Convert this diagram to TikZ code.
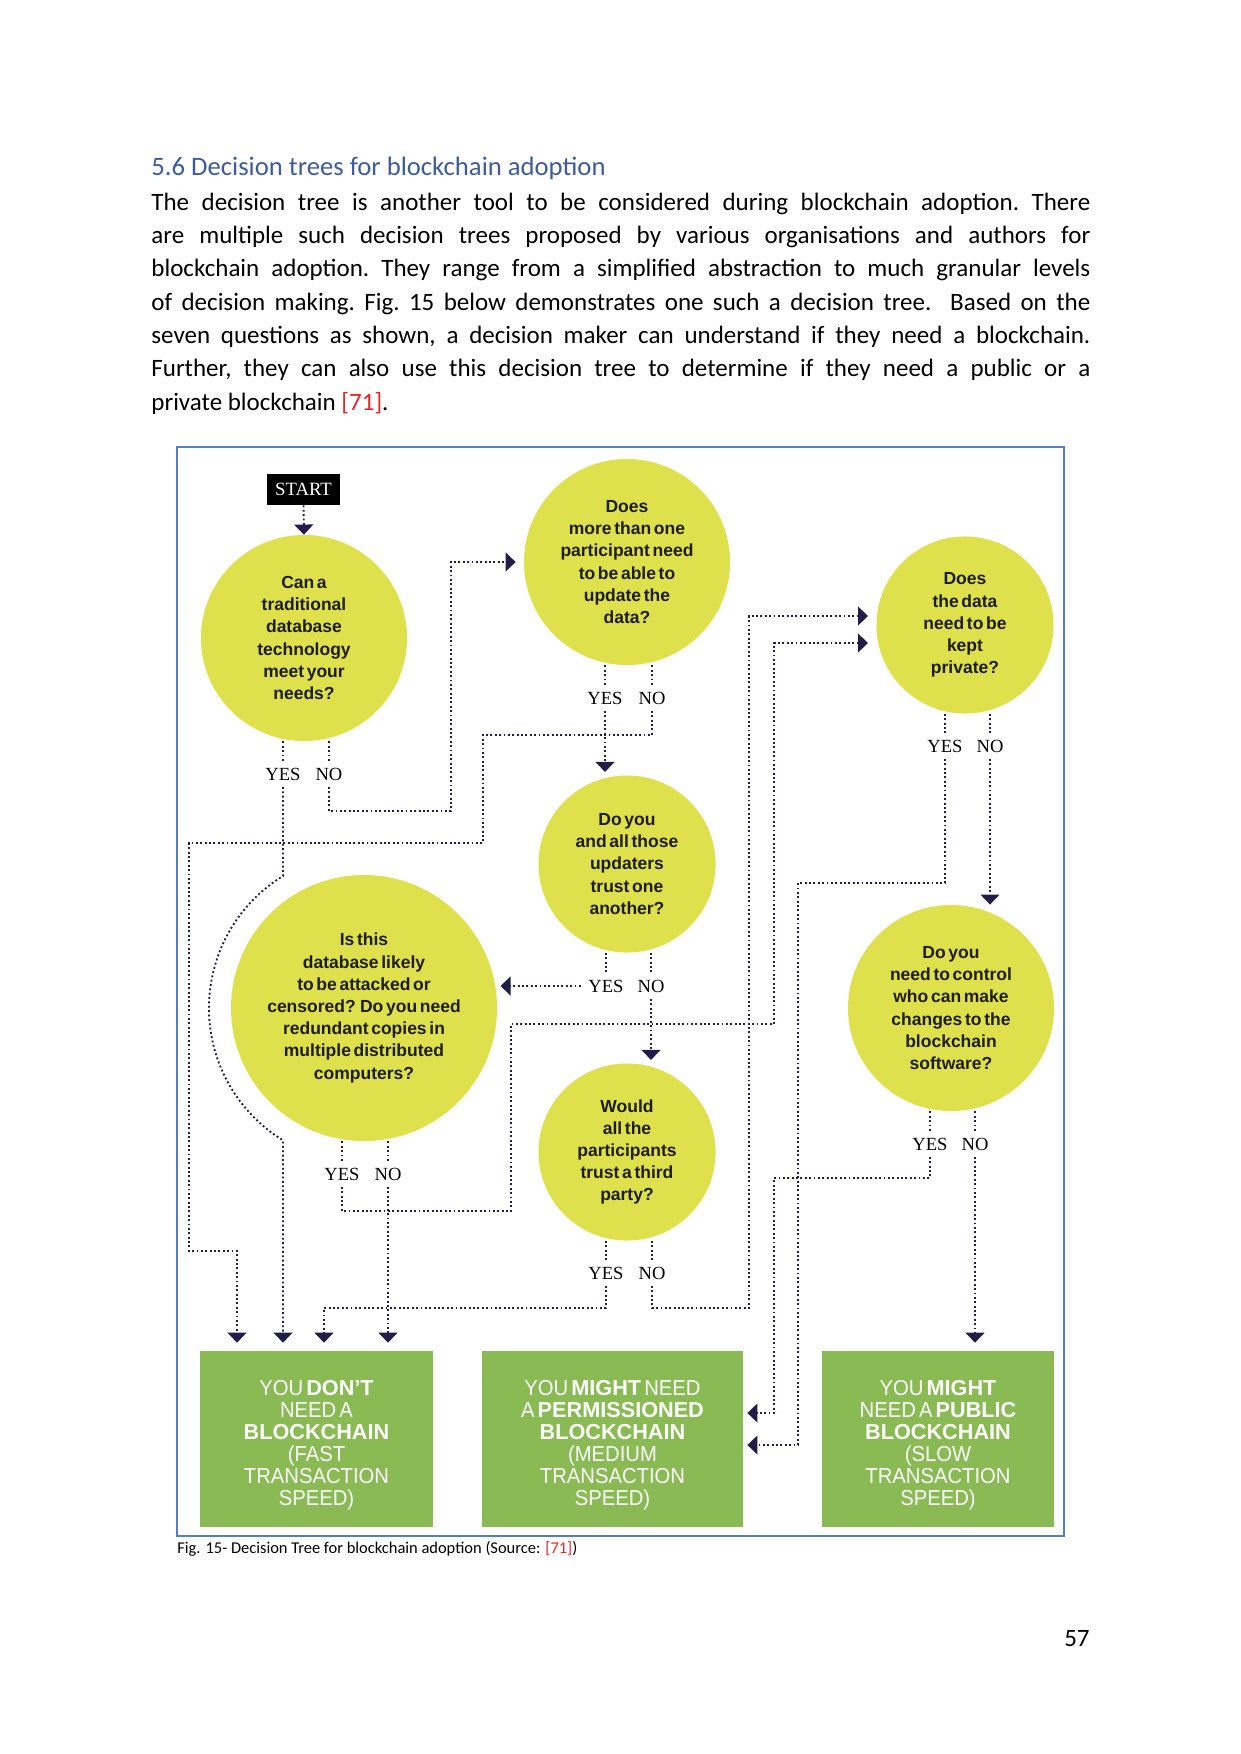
\documentclass[tikz,border=0pt]{standalone}
\usepackage{fontspec}
\setmainfont{Carlito}
\newfontfamily\qfont[WordSpace=0.75]{Liberation Sans}
\newfontfamily\bxfont[WordSpace=0.55,FakeStretch=0.935]{Liberation Sans}
\newfontfamily\bxbold[WordSpace=0.55]{Liberation Sans}
\newfontfamily\ynfont{Liberation Serif}
\newcommand\bxb[1]{{\bxbold\bfseries #1}}
\newcommand\firstup{\rule{0pt}{13.3pt}}
\usetikzlibrary{arrows.meta,backgrounds}
\definecolor{qyellow}{RGB}{222,224,76}
\definecolor{bgreen}{RGB}{137,186,84}
\definecolor{navy}{RGB}{33,29,72}
\definecolor{frameblue}{RGB}{84,125,195}
\definecolor{headblue}{RGB}{62,92,152}
\definecolor{refred}{RGB}{228,38,38}
\definecolor{qtext}{RGB}{29,29,27}
\tikzset{
  question/.style={circle, fill=qyellow, inner sep=0pt, align=center, text=qtext,
    font=\qfont\bfseries\fontsize{8.4}{10.65}\selectfont},
  result/.style={rectangle, fill=bgreen, inner sep=0pt, align=center, text=white,
    minimum height=84.5pt, font=\bxfont\fontsize{10.4}{10.56}\selectfont},
  startbox/.style={rectangle, fill=black, text=white, inner sep=0pt,
    minimum width=35pt, minimum height=14.9pt, font=\ynfont\fontsize{9}{10}\selectfont},
  yn/.style={inner xsep=0pt, inner ysep=3pt, text height=6pt, text depth=0pt,
    font=\ynfont\fontsize{8.9}{10}\selectfont},
  dl/.style={draw=navy, line width=0.9pt, dash pattern=on 0.9pt off 1.2pt},
  arr/.style={-{Triangle[length=4.8pt,width=9pt]}},
  framebox/.style={draw=frameblue, line width=0.7pt}
}
\begin{document}
\begin{tikzpicture}[x=0.48pt,y=-0.48pt]
\useasboundingbox (0,0) rectangle (1241,1754);

% page text
\node[anchor=base west, inner sep=0pt, text=headblue, font=\fontsize{12.8}{15}\selectfont] (head) at (151,175)
  {5.6 Decision trees for blockchain adoption};
\node[anchor=base west, inner sep=0pt] (body) at (151,210) {\parbox[t]{450.7pt}{\fontsize{12}{16}\selectfont\frenchspacing\hyphenpenalty=10000\relax
The decision tree is another tool to be considered during blockchain adoption. There\linebreak
are multiple such decision trees proposed by various organisations and authors for\linebreak
blockchain adoption. They range from a simplified abstraction to much granular levels\linebreak
of decision making. Fig. 15 below demonstrates one such a decision tree.\ \ Based on the\linebreak
seven questions as shown, a decision maker can understand if they need a blockchain.\linebreak
Further, they can also use this decision tree to determine if they need a public or a\linebreak
private blockchain {\color{refred}[71]}.}};
\draw[framebox] (177,447) rectangle (1064,1536);
\node[anchor=base west, inner sep=0pt, font=\fontsize{7.9}{9}\selectfont] (cap) at (177,1553)
  {Fig. 15- Decision Tree for blockchain adoption (Source: {\color{refred}[71]})};
\node[anchor=base east, inner sep=0pt, font=\fontsize{12}{14}\selectfont] (pnum) at (1090,1646) {57};

% diagram nodes
\node[startbox] (start) at (303.5,489.5) {START};
\node[question, minimum size=98.9pt] (q1) at (304,638) {Can a\\traditional\\database\\technology\\meet your\\needs?};
\node[question, minimum size=98.9pt] (q2) at (627,562) {Does\\more than one\\participant need\\to be able to\\update the\\data?};
\node[question, minimum size=85pt] (q3) at (627,864) {Do you\\and all those\\updaters\\trust one\\another?};
\node[question, minimum size=127.7pt] (q4) at (364,1008) {Is this\\database likely\\to be attacked or\\censored? Do you need\\redundant copies in\\multiple distributed\\computers?};
\node[question, minimum size=85pt] (q5) at (627,1152) {Would\\all the\\participants\\trust a third\\party?};
\node[question, minimum size=85pt] (q6) at (965,625) {Does\\the data\\need to be\\kept\\private?};
\node[question, minimum size=98.9pt] (q7) at (951,1008) {Do you\\need to control\\who can make\\changes to the\\blockchain\\software?};

\node[result, minimum width=111.8pt] (r1) at (316.5,1439) {\firstup YOU \bxb{DON’T}\\NEED A\\\bxb{BLOCKCHAIN}\\(FAST\\TRANSACTION\\SPEED)};
\node[result, minimum width=125.3pt] (r2) at (612.5,1439) {\firstup YOU \bxb{MIGHT} NEED\\A \bxb{PERMISSIONED}\\\bxb{BLOCKCHAIN}\\(MEDIUM\\TRANSACTION\\SPEED)};
\node[result, minimum width=111.4pt] (r3) at (938,1439) {\firstup YOU \bxb{MIGHT}\\NEED A \bxb{PUBLIC}\\\bxb{BLOCKCHAIN}\\(SLOW\\TRANSACTION\\SPEED)};

\node[yn] (y1) at (283,774) {YES};  \node[yn] (n1) at (329,774) {NO};
\node[yn] (y2) at (605,698) {YES};  \node[yn] (n2) at (652,698) {NO};
\node[yn] (y3) at (606,986) {YES};  \node[yn] (n3) at (651,986) {NO};
\node[yn] (y4) at (342,1174) {YES}; \node[yn] (n4) at (388,1174) {NO};
\node[yn] (y5) at (606,1273) {YES}; \node[yn] (n5) at (652,1273) {NO};
\node[yn] (y6) at (945,746) {YES};  \node[yn] (n6) at (990,746) {NO};
\node[yn] (y7) at (930,1144) {YES}; \node[yn] (n7) at (975,1144) {NO};

\coordinate (q6a) at (868,616);
\coordinate (q6b) at (868,643);
\coordinate (r2a) at (r2.east |- 0,1413);
\coordinate (r2b) at (r2.east |- 0,1445);

\begin{scope}[on background layer]
\fill[white] (0,0) rectangle (1241,1754);
% stubs from circles to labels
\foreach \q/\l in {q1/y1,q1/n1,q2/y2,q2/n2,q3/y3,q3/n3,q4/y4,q4/n4,q5/y5,q5/n5,q6/y6,q6/n6,q7/y7,q7/n7}
  \draw[dl] (\q.south -| \l.north) -- (\l.north);
% connectors
\draw[dl,arr] (start.south) -- (q1.north);
\draw[dl,arr,shorten >=3.8pt] (n1.south) |- (451,811) |- (q2.west);
\draw[dl,arr,shorten >=3.8pt] (y1.south) -- (283,876)
  arc[start angle=121.5, end angle=238.5, radius=74.4pt] -- (y1.south |- r1.north);
\draw[dl,arr,shorten >=3.8pt] (n2.south) |- (483,735) |- (189,843) |- (237,1251) -- (237,1251 |- r1.north);
\draw[dl,arr,shorten >=1.5pt] (y2.south) -- (y2.south |- q3.north);
\draw[dl,arr,shorten >=1.5pt,shorten <=3.5pt] (y3.west) -- (y3.west -| q4.east);
\draw[dl,arr,shorten >=1.5pt] (n3.south) -- (n3.south |- q5.north);
\draw[dl,arr] (y4.south) |- (511,1211) |- (774,1024) |- (q6b);
\draw[dl,arr,shorten >=3.8pt] (n4.south) -- (n4.south |- r1.north);
\draw[dl,arr,shorten >=3.8pt] (y5.south) |- (324,1308) -- (324,1308 |- r1.north);
\draw[dl,arr] (n5.south) |- (749,1308) |- (q6a);
\draw[dl,arr,shorten >=1.9pt] (y6.south) |- (798,883) |- (r2b);
\draw[dl,arr] (n6.south) -- (n6.south |- q7.north);
\draw[dl,arr,shorten >=1.9pt] (y7.south) |- (774,1178) |- (r2a);
\draw[dl,arr,shorten >=3.8pt] (n7.south) -- (n7.south |- r3.north);
\end{scope}
\end{tikzpicture}
\end{document}
